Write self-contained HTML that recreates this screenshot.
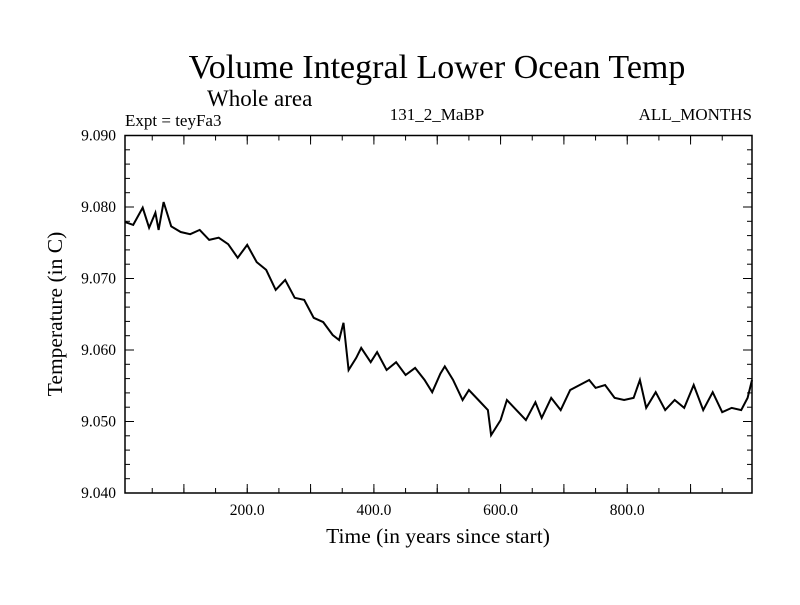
<!DOCTYPE html>
<html><head><meta charset="utf-8"><style>
html,body{margin:0;padding:0;background:#fff;}
svg text{font-family:"Liberation Serif",serif;fill:#000;}
</style></head><body>
<svg id="chart" width="800" height="600" xmlns="http://www.w3.org/2000/svg">
<text x="437" y="78" font-size="34" text-anchor="middle">Volume Integral Lower Ocean Temp</text>
<text x="207" y="106" font-size="23">Whole area</text>
<text x="125" y="126" font-size="17">Expt = teyFa3</text>
<text x="437" y="120" font-size="17" text-anchor="middle">131_2_MaBP</text>
<text x="752" y="120" font-size="17" text-anchor="end">ALL_MONTHS</text>
<text x="438" y="543" font-size="21.5" text-anchor="middle">Time (in years since start)</text>
<text transform="translate(62,314) rotate(-90)" font-size="21.5" text-anchor="middle">Temperature (in C)</text>
<g id="axes"></g>
<rect x="125" y="135.5" width="627" height="357.5" fill="none" stroke="#000" stroke-width="1.5"/>
<path id="series" fill="none" stroke="#000" stroke-width="2"/>
</svg>
<script>
const years=[7,20,35,45,55,60,68,80,95,110,125,140,155,170,185,200,215,230,245,260,275,290,305,320,335,345,352,360,372,380,395,405,420,435,450,465,480,492,505,512,525,540,550,565,580,585,600,610,625,640,655,665,680,695,710,725,740,750,765,780,795,810,820,830,845,860,875,890,905,920,935,950,965,980,990,997];
const temps=[9.0779,9.0775,9.0799,9.0771,9.0792,9.0768,9.0807,9.0773,9.0765,9.0762,9.0768,9.0754,9.0757,9.0748,9.0729,9.0747,9.0723,9.0712,9.0684,9.0698,9.0673,9.0670,9.0645,9.0639,9.0621,9.0614,9.0638,9.0572,9.0589,9.0603,9.0583,9.0597,9.0572,9.0583,9.0565,9.0575,9.0558,9.0541,9.0567,9.0577,9.0558,9.0530,9.0544,9.0530,9.0516,9.0481,9.0502,9.0530,9.0516,9.0502,9.0527,9.0505,9.0533,9.0516,9.0544,9.0551,9.0558,9.0547,9.0551,9.0533,9.0530,9.0533,9.0558,9.0519,9.0541,9.0516,9.0530,9.0519,9.0551,9.0516,9.0541,9.0513,9.0519,9.0516,9.0533,9.0558];
const yTicks=[9.040,9.050,9.060,9.070,9.080,9.090];
const yTickLabels=["9.040","9.050","9.060","9.070","9.080","9.090"];
const xTicks=[200,400,600,800];
const xTickLabels=["200.0","400.0","600.0","800.0"];
const X0=125,X1=752,Y0=135.5,Y1=493;
const tMin=7,tMax=997,vMin=9.040,vMax=9.090;
function sx(t){return X0+(t-tMin)/(tMax-tMin)*(X1-X0);}
function sy(v){return Y1-(v-vMin)/(vMax-vMin)*(Y1-Y0);}
const NS="http://www.w3.org/2000/svg";
const g=document.getElementById('axes');
function line(x1,y1,x2,y2,name){const l=document.createElementNS(NS,'line');
l.setAttribute('x1',x1);l.setAttribute('y1',y1);l.setAttribute('x2',x2);l.setAttribute('y2',y2);
l.setAttribute('stroke','#000');l.setAttribute('stroke-width','1');


g.appendChild(l);}
function text(x,y,s,anchor,name){const t=document.createElementNS(NS,'text');
t.setAttribute('x',x);t.setAttribute('y',y);t.setAttribute('font-size','15.5');t.setAttribute('text-anchor',anchor);t.textContent=s;


g.appendChild(t);}
for(let v=9.040;v<=9.0901;v+=0.002){const y=sy(v);line(X0,y,X0+5,y,'y-minor-tick');line(X1,y,X1-5,y,'y-minor-tick');}
yTicks.forEach((v,i)=>{const y=sy(v);line(X0,y,X0+9,y,'y-major-tick');line(X1,y,X1-9,y,'y-major-tick');text(116,y+5,yTickLabels[i],'end','y-tick-label');});
for(let t=50;t<tMax;t+=50){const x=sx(t);line(x,Y1,x,Y1-5,'x-minor-tick');line(x,Y0,x,Y0+5,'x-minor-tick');}
for(let t=100;t<tMax;t+=100){const x=sx(t);line(x,Y1,x,Y1-9,'x-major-tick');line(x,Y0,x,Y0+9,'x-major-tick');}
xTicks.forEach((t,i)=>{text(sx(t),515,xTickLabels[i],'middle','x-tick-label');});
let d='';years.forEach((t,i)=>{d+=(i?'L':'M')+sx(t).toFixed(1)+','+sy(temps[i]).toFixed(1);});
document.getElementById('series').setAttribute('d',d);
</script>
</body></html>
